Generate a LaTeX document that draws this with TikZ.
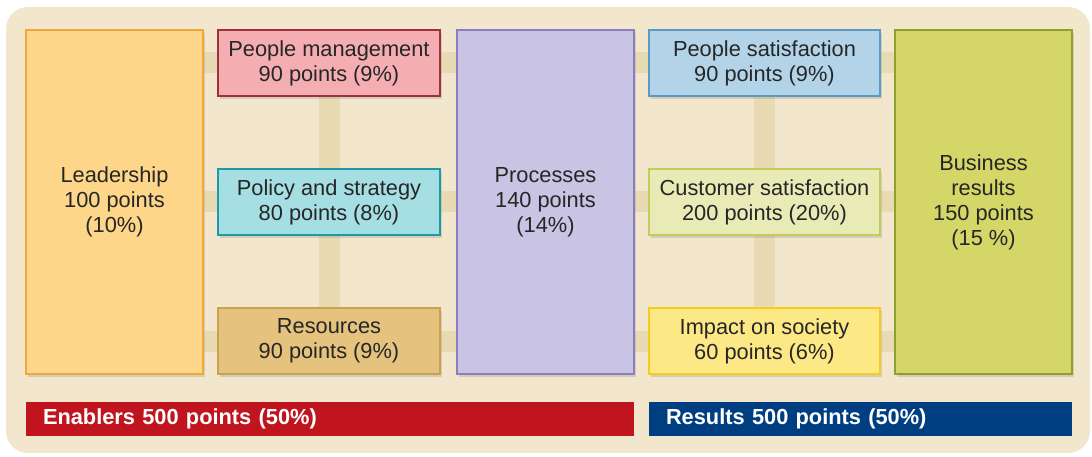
\documentclass[tikz,border=0pt]{standalone}
\usepackage{fontspec}
\setmainfont{Liberation Sans}
\usetikzlibrary{shadows,backgrounds}
\definecolor{bgbeige}{HTML}{F2E6CD}
\definecolor{band}{HTML}{E8DAB2}
\definecolor{txt}{HTML}{262626}
\definecolor{leadfill}{HTML}{FDD68A}\definecolor{leadline}{HTML}{F2A73B}
\definecolor{pmfill}{HTML}{F4AEB2}\definecolor{pmline}{HTML}{A0303E}
\definecolor{polfill}{HTML}{A5DEE3}\definecolor{polline}{HTML}{1E9AA5}
\definecolor{resfill}{HTML}{E5C27D}\definecolor{resline}{HTML}{C9A24E}
\definecolor{procfill}{HTML}{C9C4E3}\definecolor{procline}{HTML}{8A7EC0}
\definecolor{psfill}{HTML}{B3D4E8}\definecolor{psline}{HTML}{5A9BC3}
\definecolor{csfill}{HTML}{E8EBB6}\definecolor{csline}{HTML}{C3CC5A}
\definecolor{socfill}{HTML}{FDE886}\definecolor{socline}{HTML}{F6CD1E}
\definecolor{bizfill}{HTML}{D4D668}\definecolor{bizline}{HTML}{8FA12B}
\definecolor{enabred}{HTML}{C0141E}
\definecolor{resblue}{HTML}{003E82}
\tikzset{
  box/.style={draw, line width=2pt, text=txt, align=center,
    font=\fontsize{21.8}{25}\selectfont,
    drop shadow={opacity=0.25, shadow xshift=2pt, shadow yshift=-3pt}},
  tall/.style={box, minimum width=177pt, minimum height=344pt},
  lsmall/.style={box, minimum width=222pt, minimum height=66pt, inner sep=0pt},
  rsmall/.style={box, minimum width=231pt, minimum height=66pt, inner sep=0pt},
  bar/.style={minimum height=34pt, inner xsep=17pt, inner ysep=0pt, align=left,
    text=white, font=\bfseries\fontsize{21.8}{25}\selectfont},
  link/.style={band, line width=21pt}
}
\begin{document}
\begin{tikzpicture}[x=1pt,y=-1pt]
\useasboundingbox (0,0) rectangle (1092,457);

\node[tall, fill=leadfill, draw=leadline] (lead) at (114.5,202) {Leadership\\100 points\\(10\%)};
\node[lsmall, fill=pmfill, draw=pmline] (people) at (329,63) {People management\\90 points (9\%)};
\node[lsmall, fill=polfill, draw=polline] (policy) at (329,202) {Policy and strategy\\80 points (8\%)};
\node[lsmall, fill=resfill, draw=resline] (resources) at (329,341) {Resources\\90 points (9\%)};
\node[tall, fill=procfill, draw=procline] (proc) at (545.5,202) {Processes\\140 points\\(14\%)};
\node[rsmall, fill=psfill, draw=psline] (peoplesat) at (764.5,63) {People satisfaction\\90 points (9\%)};
\node[rsmall, fill=csfill, draw=csline] (custsat) at (764.5,202) {Customer satisfaction\\200 points (20\%)};
\node[rsmall, fill=socfill, draw=socline] (society) at (764.5,341) {Impact on society\\60 points (6\%)};
\node[tall, fill=bizfill, draw=bizline] (biz) at (983.5,202) {Business\\results\\150 points\\(15 \%)};

\node[bar, fill=enabred, text width=574pt] (enablers) at (330,419) {Enablers 500 points (50\%)};
\node[bar, fill=resblue, text width=389pt] (results) at (860.5,419) {Results 500 points (50\%)};

\begin{scope}[on background layer]
\fill[bgbeige, rounded corners=22pt] (6,7) rectangle (1090,453);
\draw[link] (lead.east |- people) -- (biz.west |- people);
\draw[link] (lead.east |- policy) -- (biz.west |- policy);
\draw[link] (lead.east |- resources) -- (biz.west |- resources);
\draw[link] (people.south) -- (resources.north);
\draw[link] (peoplesat.south) -- (society.north);
\end{scope}
\end{tikzpicture}
\end{document}
